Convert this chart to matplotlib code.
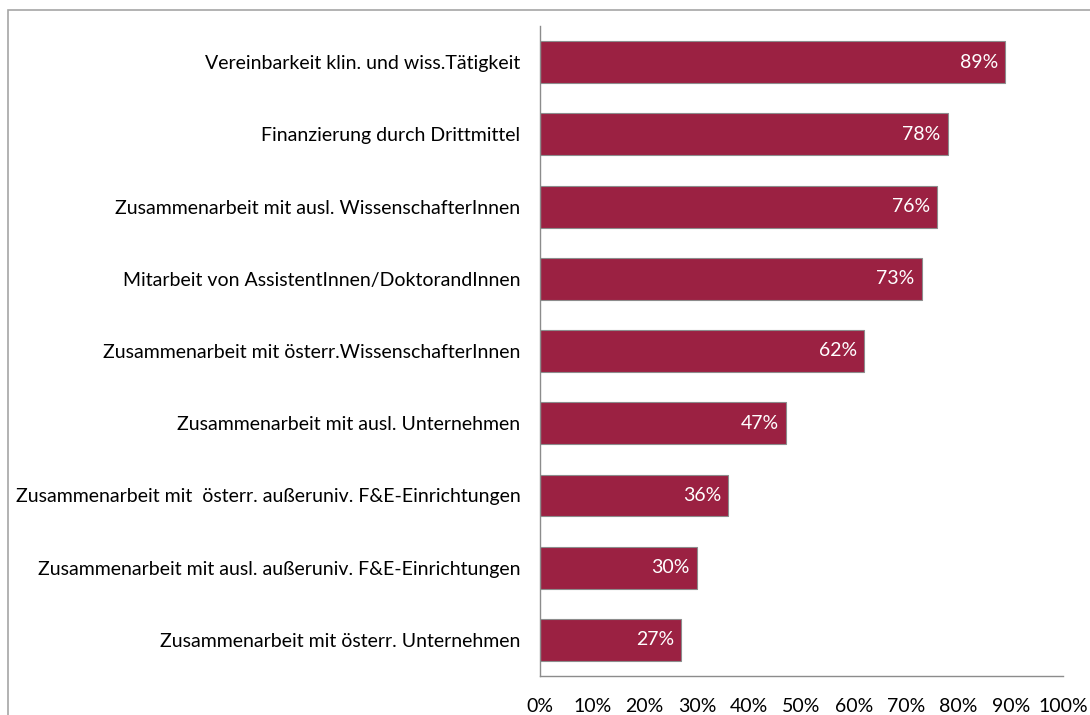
import matplotlib
matplotlib.use("Agg")
import matplotlib.pyplot as plt
from matplotlib.patches import Rectangle

categories = [
    "Vereinbarkeit klin. und wiss.Tätigkeit",
    "Finanzierung durch Drittmittel",
    "Zusammenarbeit mit ausl. WissenschafterInnen",
    "Mitarbeit von AssistentInnen/DoktorandInnen",
    "Zusammenarbeit mit österr.WissenschafterInnen",
    "Zusammenarbeit mit ausl. Unternehmen",
    "Zusammenarbeit mit  österr. außeruniv. F&E-Einrichtungen",
    "Zusammenarbeit mit ausl. außeruniv. F&E-Einrichtungen",
    "Zusammenarbeit mit österr. Unternehmen",
]
values = [89, 78, 76, 73, 62, 47, 36, 30, 27]
xticks = [0, 10, 20, 30, 40, 50, 60, 70, 80, 90, 100]

plt.rcParams['font.family'] = ['Lato', 'DejaVu Sans']

fig = plt.figure(figsize=(10.9, 7.15), dpi=100)
fig.patches.append(Rectangle((8/1090, -0.1), 1.2, 1 - 10/715 + 0.1,
                             transform=fig.transFigure, fill=False,
                             edgecolor='#a6a6a6', linewidth=1.2))
ax = fig.add_axes([540/1090, 1 - 676/715, (1063-540)/1090, (676-26)/715])

n = len(categories)
ypos = list(range(n))[::-1]
bars = ax.barh(ypos, values, height=0.58, color='#9b2142',
               edgecolor='#8c8c8c', linewidth=0.8)
for y, v in zip(ypos, values):
    ax.text(v - 1.4, y, f"{v}%", ha='right', va='center', color='white', fontsize=14)

ax.set_xlim(0, 100)
ax.set_ylim(-0.5, n - 0.5)
ax.set_yticks(ypos)
ax.set_yticklabels(categories, fontsize=14)
ax.set_xticks(xticks)
ax.set_xticklabels([f"{t}%" for t in xticks], fontsize=14)
ax.tick_params(axis='both', length=0)
ax.tick_params(axis='y', pad=14)
ax.tick_params(axis='x', pad=16)
for s in ['top', 'right']:
    ax.spines[s].set_visible(False)
for s in ['left', 'bottom']:
    ax.spines[s].set_color('#8c8c8c')
    ax.spines[s].set_linewidth(1)

fig.savefig("out.png", dpi=100)
